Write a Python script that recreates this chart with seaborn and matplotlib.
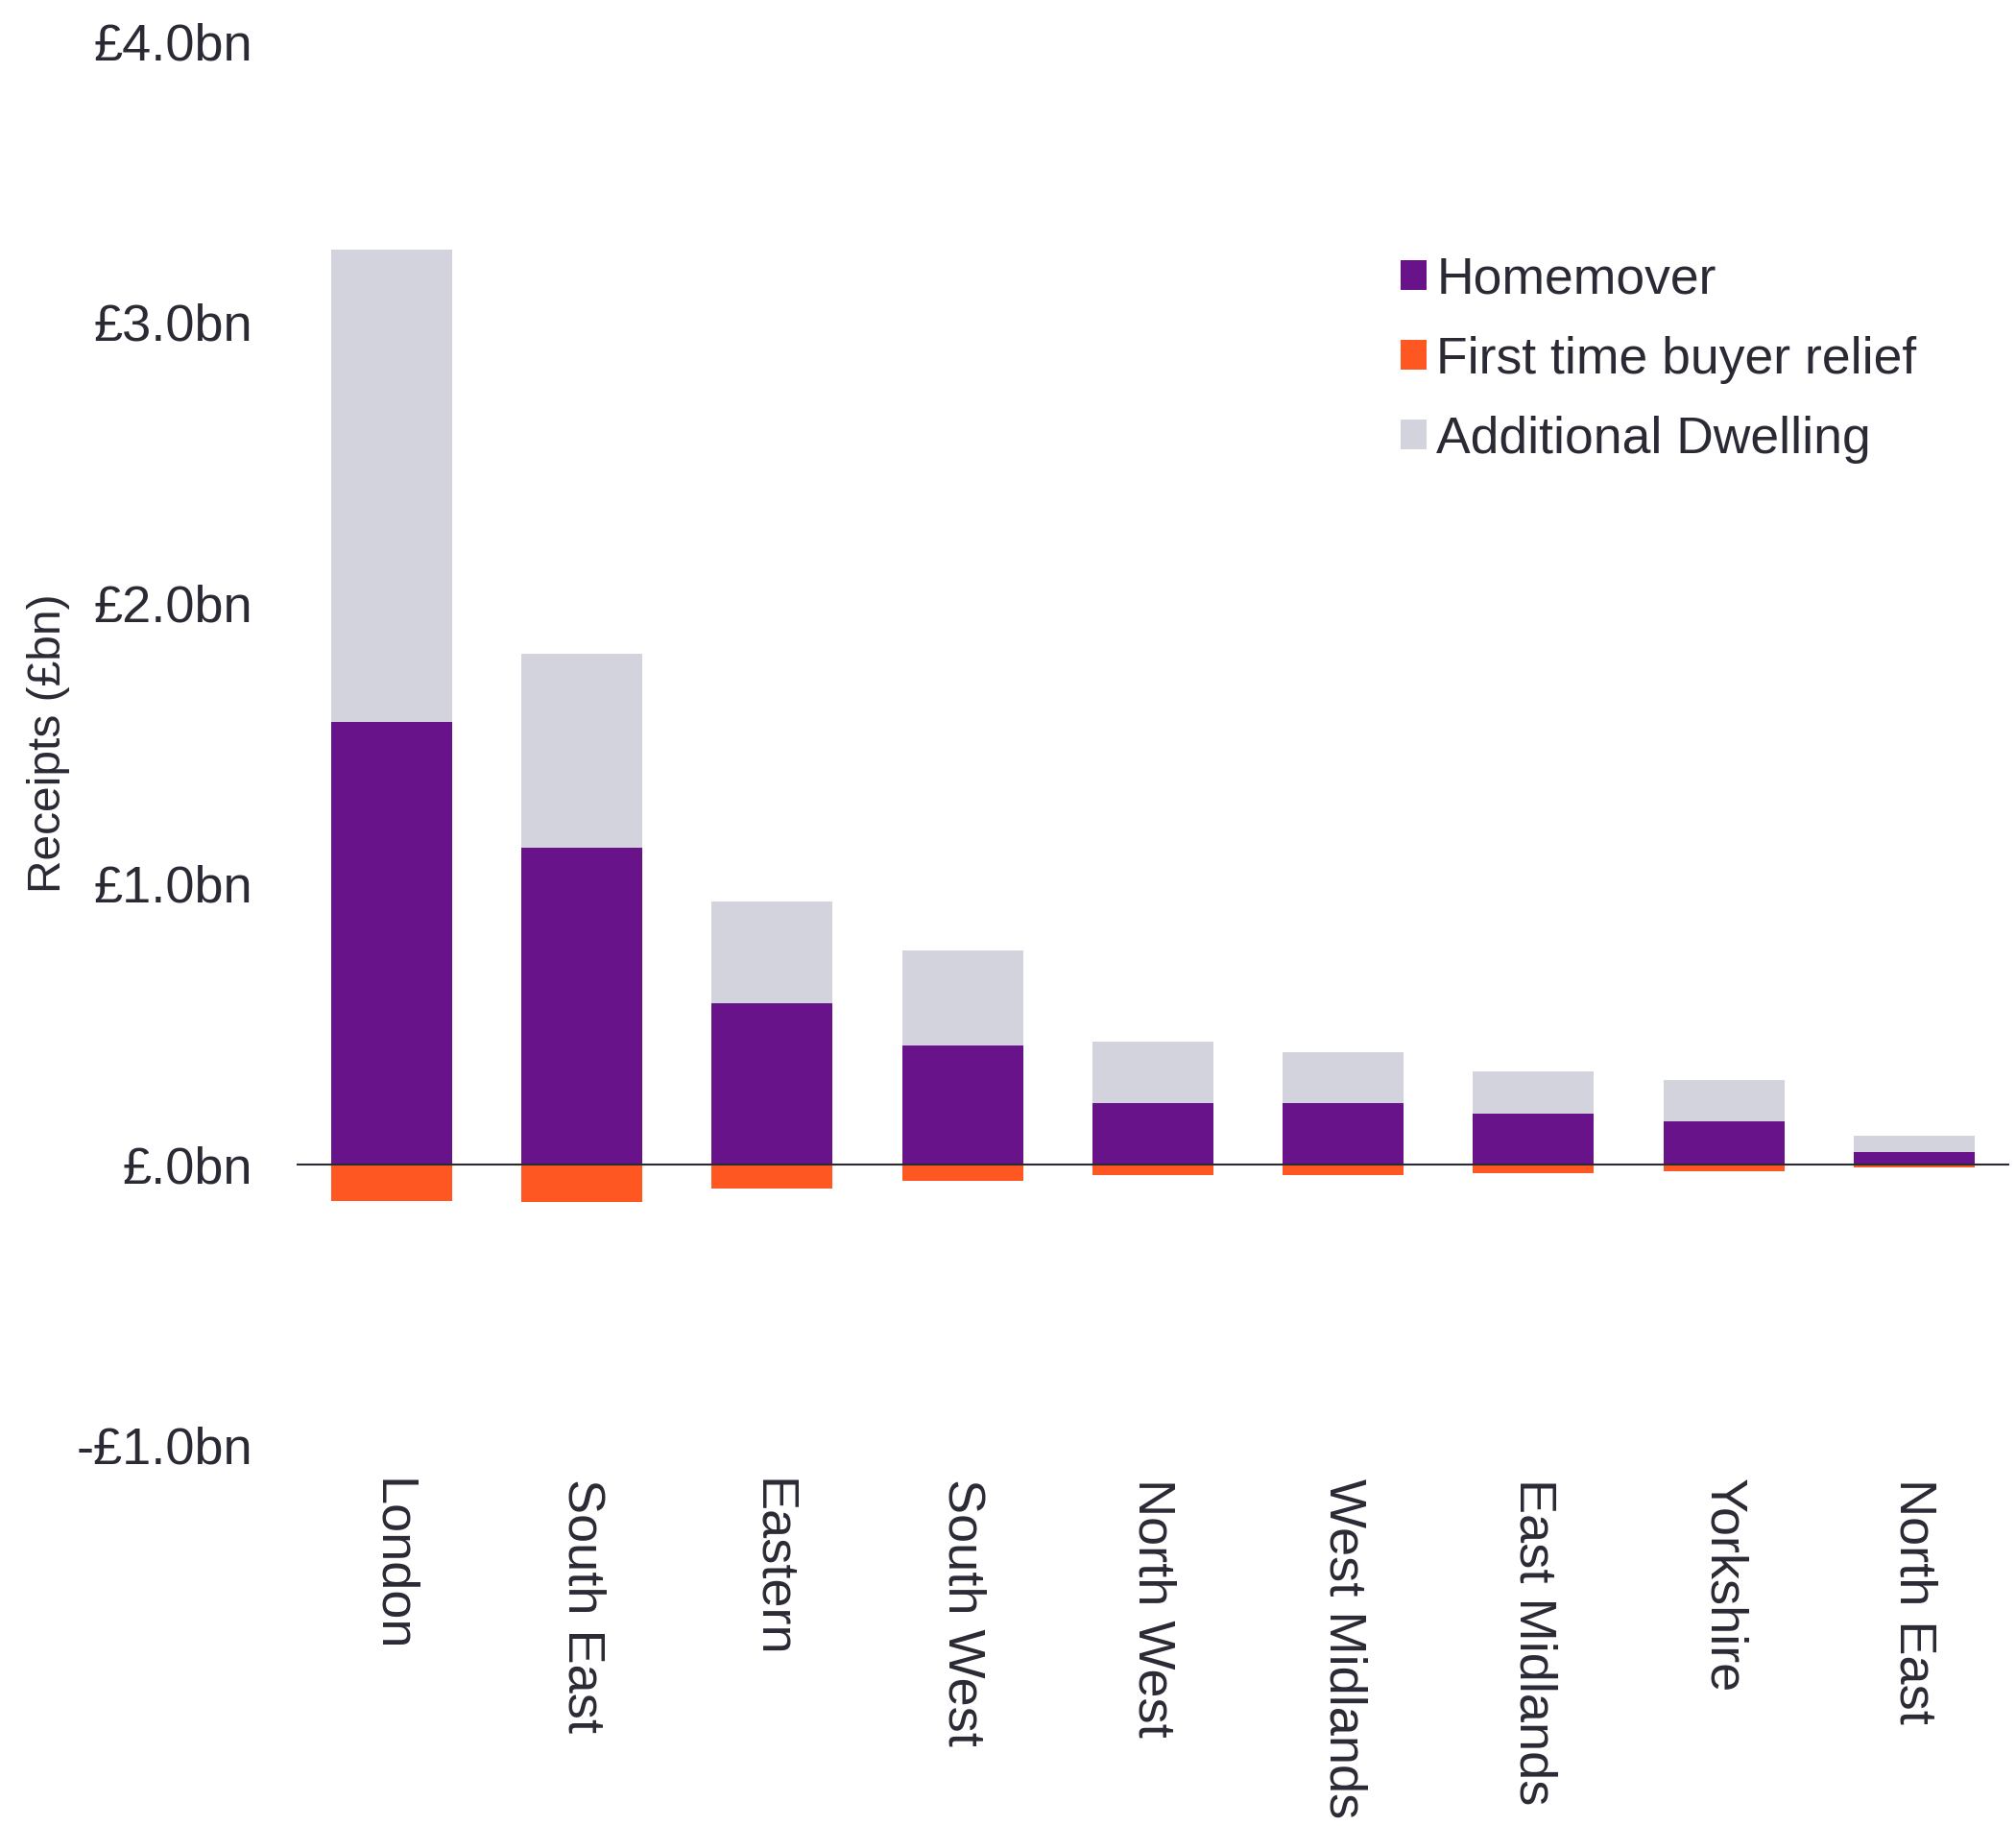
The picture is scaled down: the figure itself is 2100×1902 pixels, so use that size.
import matplotlib
matplotlib.use("Agg")
import matplotlib.pyplot as plt
from matplotlib.patches import Patch
import seaborn as sns
import pandas as pd

regions = ["London", "South East", "Eastern", "South West", "North West",
           "West Midlands", "East Midlands", "Yorkshire", "North East"]
homemover = [1.577, 1.129, 0.573, 0.424, 0.218, 0.217, 0.180, 0.152, 0.044]
additional = [1.682, 0.690, 0.362, 0.338, 0.217, 0.183, 0.151, 0.146, 0.057]
ftb_relief = [-0.130, -0.134, -0.087, -0.059, -0.039, -0.039, -0.033, -0.025, -0.010]
ytick_vals = [-1.0, 0.0, 1.0, 2.0, 3.0, 4.0]
ytick_labels = ["-£1.0bn", "£.0bn", "£1.0bn", "£2.0bn", "£3.0bn", "£4.0bn"]
series_names = ["Homemover", "First time buyer relief", "Additional Dwelling"]

C_HM = "#68138A"
C_FTB = "#FF5722"
C_AD = "#D3D3DE"
C_TXT = "#2A2A35"

sns.set_theme(style="white")
plt.rcParams["font.family"] = ["Liberation Sans", "DejaVu Sans"]

df = pd.DataFrame({
    "region": regions,
    "homemover": homemover,
    "total": [h + a for h, a in zip(homemover, additional)],
    "ftb": ftb_relief,
})

fig = plt.figure(figsize=(21, 19.02), dpi=100)
ax = fig.add_axes([0.147, 0.2087, 0.8497, 0.7687])

W = 0.635
sns.barplot(data=df, x="region", y="total", order=regions, color=C_AD,
            width=W, saturation=1, ax=ax, linewidth=0)
sns.barplot(data=df, x="region", y="homemover", order=regions, color=C_HM,
            width=W, saturation=1, ax=ax, linewidth=0)
sns.barplot(data=df, x="region", y="ftb", order=regions, color=C_FTB,
            width=W, saturation=1, ax=ax, linewidth=0)

ax.axhline(0, color=C_TXT, lw=1.5, zorder=5)

FS = 39
ax.set_xlim(-0.5, 8.5)
ax.set_ylim(-1.0, 4.0)
ax.set_yticks(ytick_vals)
ax.set_yticklabels(ytick_labels, fontsize=FS, color=C_TXT)
ax.set_xticks(range(len(regions)))
ax.set_xticklabels(regions, fontsize=FS, color=C_TXT, rotation=270,
                   va="top", ha="center")
ax.tick_params(axis="y", length=0, pad=33)
ax.tick_params(axis="x", length=0, pad=25)
for s in ax.spines.values():
    s.set_visible(False)

ax.set_xlabel("")
ax.set_ylabel("Receipts (£bn)", fontsize=34.5, color=C_TXT)
ax.yaxis.set_label_coords(-0.132, 0.5)

handles = [Patch(facecolor=C_HM, edgecolor="none"),
           Patch(facecolor=C_FTB, edgecolor="none"),
           Patch(facecolor=C_AD, edgecolor="none")]
fig.legend(handles, series_names, loc="upper left",
           bbox_to_anchor=(0.682, 0.874), frameon=False, fontsize=38.5,
           handlelength=0.5, handleheight=0.5, handletextpad=0.2,
           labelspacing=0.62, borderpad=0, labelcolor=C_TXT)

fig.savefig("out.png", dpi=100, facecolor="white")
